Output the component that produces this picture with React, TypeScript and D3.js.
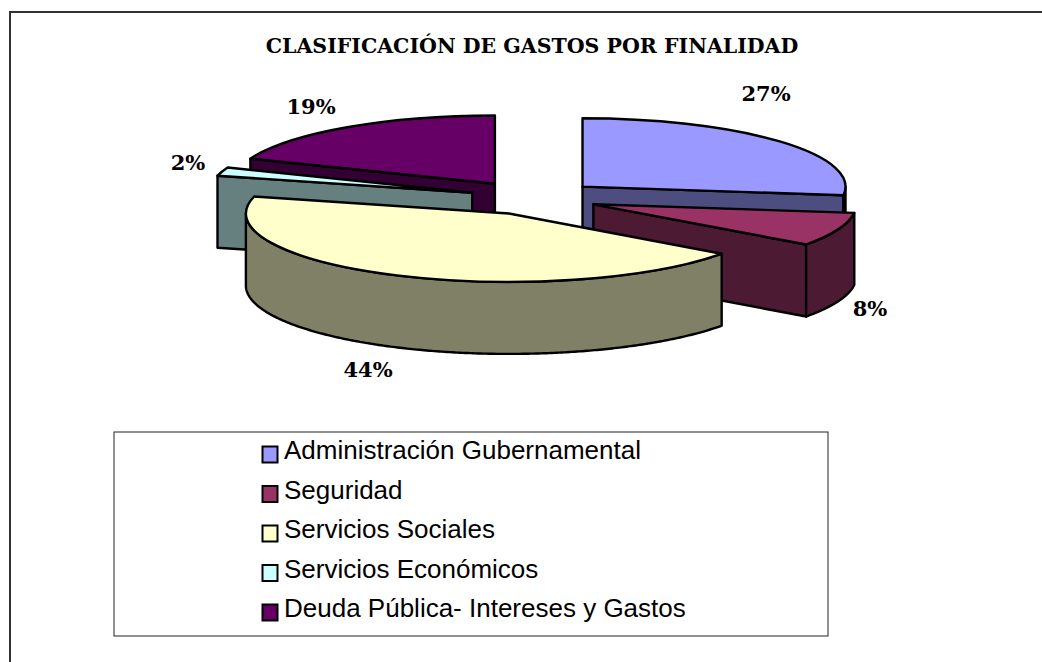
import * as d3 from "d3";

const categories = [
  "Administración Gubernamental",
  "Seguridad",
  "Servicios Sociales",
  "Servicios Económicos",
  "Deuda Pública- Intereses y Gastos",
];
const shares = [27, 8, 44, 2, 19];
const topColors = ["#9999ff", "#993366", "#ffffcc", "#ccffff", "#660066"];
const wallColors = ["#4d4d80", "#4d1a33", "#808066", "#668080", "#330033"];
const labelSpots = [
  { x: 766, y: 101 },
  { x: 870, y: 316 },
  { x: 368, y: 377 },
  { x: 188, y: 170 },
  { x: 311, y: 114 },
];
// back to front
const drawOrder = [4, 0, 3, 1, 2];
// small hand correction of the exploded position, the original isn't quite radial
const nudgeX = [0, -1, 4, 2, -1];

const width = 1042;
const height = 662;
const cx = 533;
const cy = 198;
const rx = 263;
const squash = 0.26;
const ry = rx * squash;
const depth = 72;
const explode = 66;
const serif = "'DejaVu Serif', serif";

const pie = d3.pie<number>().sort(null).startAngle(0).endAngle(2 * Math.PI);
const arcs = pie(shares);
const topArc = d3.arc<d3.PieArcDatum<number>>().innerRadius(0).outerRadius(rx);

const px = (a: number) => rx * Math.sin(a);
const py = (a: number) => -ry * Math.cos(a);

const polygon = d3.line<[number, number]>();
const wall = d3
  .area<number>()
  .x((a) => px(a))
  .y0((a) => py(a))
  .y1((a) => py(a) + depth);

// outer rim only shows where it faces the viewer
function frontAngles(start: number, end: number) {
  const s = Math.max(start, Math.PI / 2);
  const e = Math.min(end, (3 * Math.PI) / 2);
  return s < e ? d3.range(s, e, 0.01).concat(e) : [];
}

function Slice({ i }: { i: number }) {
  const d = arcs[i];
  const mid = (d.startAngle + d.endAngle) / 2;
  const ox = cx + explode * Math.sin(mid) + nudgeX[i];
  const oy = cy - explode * squash * Math.cos(mid);
  const cut = (a: number) =>
    polygon([
      [0, 0],
      [px(a), py(a)],
      [px(a), py(a) + depth],
      [0, depth],
    ]) + "Z";
  const rim = frontAngles(d.startAngle, d.endAngle);
  // a cut face is only seen when it turns towards the viewer
  const showStart = Math.sin(d.startAngle) < -1e-6;
  const showEnd = Math.sin(d.endAngle) > 1e-6;
  const common = { stroke: "#000", strokeWidth: 2.4, strokeLinejoin: "round" as const };
  return (
    <g transform={`translate(${ox},${oy})`}>
      {showStart && <path d={cut(d.startAngle)} fill={wallColors[i]} {...common} />}
      {showEnd && <path d={cut(d.endAngle)} fill={wallColors[i]} {...common} />}
      {rim.length > 0 && <path d={wall(rim) ?? ""} fill={wallColors[i]} {...common} />}
      <path
        d={topArc(d) ?? ""}
        transform={`scale(1,${squash})`}
        fill={topColors[i]}
        vectorEffect="non-scaling-stroke"
        {...common}
      />
    </g>
  );
}

export default function App() {
  const legendY = d3.scalePoint<number>().domain(d3.range(5)).range([456, 614]);
  return (
    <svg
      width={width}
      height={height}
      style={{ position: "absolute", left: 0, top: 0, background: "#fff" }}
    >
      {/* the frame is cropped: only its top and left sides are in the picture */}
      <path d={`M10,${height}V12H${width}`} fill="none" stroke="#333" strokeWidth={2} />
      <text
        x={532}
        y={53}
        textAnchor="middle"
        fontFamily={serif}
        fontWeight="bold"
        fontSize={20.5}
        fill="#000"
      >
        CLASIFICACIÓN DE GASTOS POR FINALIDAD
      </text>
      {drawOrder.map((i) => (
        <Slice key={i} i={i} />
      ))}
      {labelSpots.map((p, i) => (
        <text
          key={i}
          x={p.x}
          y={p.y}
          textAnchor="middle"
          fontFamily={serif}
          fontWeight="bold"
          fontSize={21}
          fill="#000"
        >
          {shares[i]}%
        </text>
      ))}
      <rect x={114} y={432} width={714} height={204} fill="#fff" stroke="#222" strokeWidth={1} />
      {categories.map((c, i) => (
        <g key={c}>
          <rect
            x={262.5}
            y={legendY(i)! - 9.5}
            width={15}
            height={16}
            fill={topColors[i]}
            stroke="#000"
            strokeWidth={2}
          />
          <text
            x={284}
            y={legendY(i)! + 3}
            fontFamily="'Liberation Sans', Arial, sans-serif"
            fontSize={26}
            fill="#000"
          >
            {c}
          </text>
        </g>
      ))}
    </svg>
  );
}
